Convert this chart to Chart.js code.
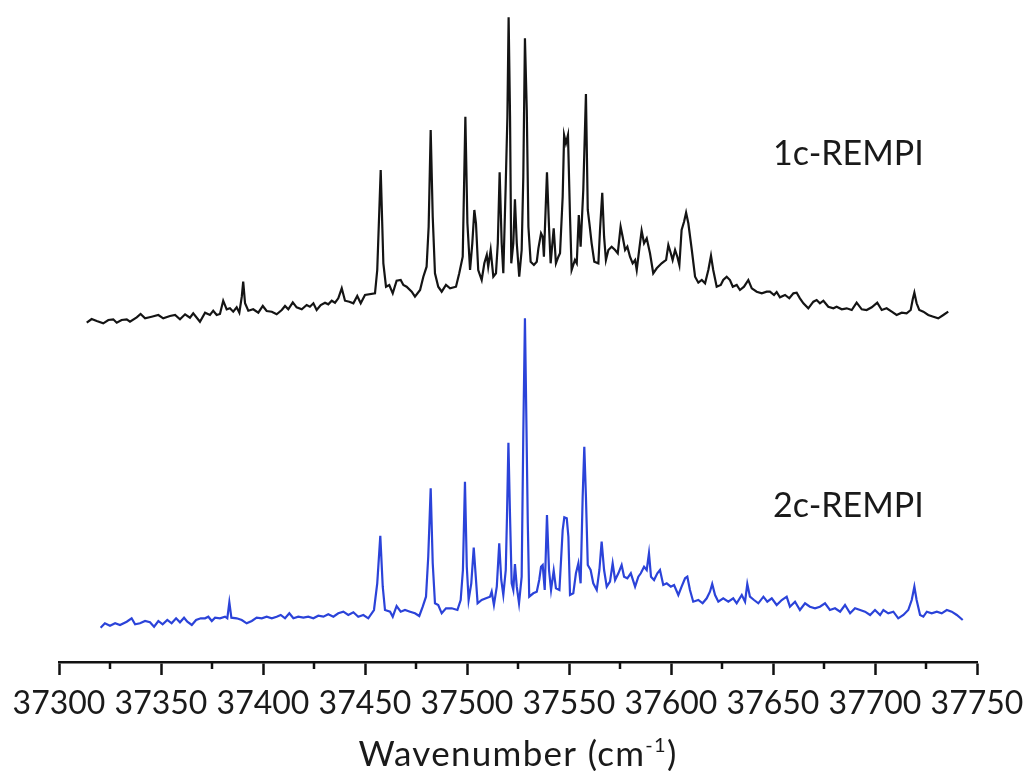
<!DOCTYPE html>
<html>
<head>
<meta charset="utf-8">
<title>REMPI spectra</title>
<script src="https://cdn.jsdelivr.net/npm/chart.js@4.4.1/dist/chart.umd.min.js"></script>
<style>
  html, body { margin: 0; padding: 0; background: #fff; }
  canvas { display: block; }
</style>
</head>
<body>
<canvas id="spectrumChart" width="1029" height="771"></canvas>
<script>
// 1c-REMPI trace: wavenumber (cm-1) and signal (a.u.)
const oneColorWn = [
  37313.6, 37316.0, 37318.5, 37321.7, 37324.2, 37326.6, 37328.3, 37330.7, 37333.2, 37334.8,
  37338.1, 37340.0, 37342.2, 37345.4, 37348.7, 37351.1, 37354.4, 37356.9, 37359.3, 37361.8,
  37364.2, 37365.8, 37369.1, 37371.6, 37374.0, 37375.6, 37377.3, 37378.9, 37380.5, 37382.2,
  37383.8, 37385.4, 37387.1, 37388.4, 37389.6, 37390.3, 37391.2, 37392.8, 37395.2, 37397.7,
  37399.9, 37401.8, 37404.3, 37406.7, 37409.2, 37410.8, 37412.4, 37414.6, 37416.5, 37419.0,
  37421.4, 37423.0, 37424.7, 37426.3, 37428.3, 37430.4, 37432.0, 37433.7, 37435.3, 37436.9,
  37438.6, 37440.2, 37442.3, 37444.3, 37446.2, 37447.9, 37450.0, 37454.9, 37456.0, 37457.7,
  37459.0, 37460.3, 37461.9, 37463.6, 37465.5, 37467.5, 37468.8, 37470.4, 37472.9, 37474.5,
  37477.0, 37478.6, 37480.2, 37481.2, 37482.2, 37483.2, 37484.3, 37485.9, 37487.6, 37489.7,
  37491.7, 37494.6, 37496.2, 37497.9, 37499.2, 37500.2, 37501.5, 37502.6, 37503.6, 37504.4,
  37505.5, 37507.2, 37508.5, 37509.7, 37510.4, 37511.6, 37512.9, 37514.2, 37515.1, 37516.0,
  37517.0, 37517.8, 37519.0, 37519.8, 37520.4, 37521.1, 37521.7, 37522.7, 37523.5, 37524.4,
  37525.6, 37526.8, 37527.6, 37528.4, 37529.3, 37530.1, 37531.2, 37532.8, 37534.2, 37535.0,
  37536.3, 37537.1, 37537.7, 37539.2, 37540.2, 37541.0, 37542.5, 37543.6, 37544.8, 37545.6,
  37546.9, 37547.6, 37548.5, 37549.5, 37550.5, 37551.3, 37552.9, 37553.8, 37554.8, 37555.7,
  37557.0, 37558.3, 37559.2, 37560.0, 37561.1, 37562.4, 37564.4, 37565.2, 37566.3, 37567.2,
  37568.1, 37569.3, 37570.9, 37572.6, 37573.9, 37575.3, 37576.3, 37577.5, 37578.6, 37579.9,
  37581.2, 37582.4, 37583.2, 37584.5, 37585.6, 37586.8, 37588.1, 37589.7, 37591.3, 37593.0,
  37595.4, 37597.6, 37598.7, 37599.9, 37600.8, 37602.0, 37603.1, 37604.1, 37605.2, 37606.4,
  37607.4, 37608.5, 37610.2, 37611.8, 37613.4, 37615.1, 37616.7, 37618.3, 37619.6, 37620.7,
  37622.4, 37624.4, 37625.6, 37627.3, 37628.9, 37630.3, 37632.2, 37633.8, 37635.8, 37637.9,
  37639.6, 37642.0, 37644.5, 37646.9, 37648.5, 37650.5, 37651.8, 37653.4, 37655.9, 37658.0,
  37660.0, 37661.6, 37663.2, 37664.9, 37667.3, 37669.8, 37671.4, 37673.0, 37674.7, 37677.1,
  37679.6, 37681.2, 37683.7, 37686.1, 37688.6, 37691.0, 37693.5, 37695.9, 37698.4, 37701.1,
  37703.3, 37705.7, 37708.2, 37710.6, 37713.1, 37715.5, 37717.5, 37718.5, 37719.3, 37720.4,
  37721.7, 37723.7, 37726.1, 37728.6, 37731.0, 37733.5, 37735.9
];
const oneColorInt = [
  7.3, 11, 9, 6.7, 10, 10.7, 7.3, 10, 10.7, 8.3,
  12.7, 16, 11.7, 13.3, 15, 11.7, 14, 15, 10.7, 15.7,
  12.3, 16.7, 8.3, 17.3, 15, 19.3, 15, 16, 29.3, 20.7,
  21.7, 18.3, 22.7, 17.3, 33.3, 48.3, 26.7, 19.3, 20.7, 17.3,
  24, 19, 18.3, 15.7, 20, 24, 20.7, 27.7, 22.7, 20.7,
  25, 23.3, 26.7, 20, 25, 27.3, 25.7, 29.3, 27.3, 31.7,
  41.7, 29.3, 28.3, 26.7, 34, 26.7, 35, 36.7, 60, 160,
  66.7, 43.3, 45, 36.7, 49.3, 50, 45, 43.3, 38.3, 33.3,
  40, 53.3, 63.3, 103.3, 200, 113.3, 56.7, 43.3, 38.3, 45,
  41.7, 43.3, 56.7, 73.3, 213.3, 106.7, 60, 86.7, 120, 106.7,
  60, 50, 66.7, 75, 63.3, 80, 53.3, 56.7, 86.7, 157.7,
  86.7, 56.7, 146.7, 213, 312.7, 213.3, 66.7, 86.7, 130.7, 86.7,
  53.3, 80, 153.3, 291.7, 220, 103.3, 68.3, 65, 68.3, 81.7,
  96.7, 93.3, 73.3, 157.7, 103.3, 66.7, 101.7, 66.7, 73.3, 76.7,
  133.3, 195, 186.7, 195, 113.3, 60, 70, 66.7, 115, 83.3,
  140, 236, 120, 106.7, 86.7, 68.3, 66.7, 100, 137.3, 93.3,
  70, 80, 83.3, 80, 76.7, 103.3, 93.3, 80, 83.3, 73.3,
  66.7, 70, 60, 81.7, 99.3, 86.7, 91.7, 76.7, 56.7, 61.7,
  66.7, 70, 85, 76.7, 70, 80, 73.3, 65, 100, 108.3,
  117.3, 106.7, 80, 53.3, 47.3, 50, 46.7, 60, 74.3, 60,
  43.3, 45, 50, 53.3, 50, 43.3, 45, 40, 43.3, 50,
  41.7, 38.3, 36.7, 38.3, 38.3, 35, 38, 32.7, 35, 31.7,
  36.7, 37.3, 31.7, 26.7, 21.7, 28.3, 30, 26.7, 29.3, 23.3,
  21.7, 23.3, 20.7, 21.7, 20, 27.3, 20.7, 20, 22.7, 27.3,
  20, 21.7, 18.3, 15, 17.3, 16.7, 20, 30.7, 37.3, 26.7,
  20, 18.3, 15, 13.3, 11.7, 15, 18.3
];

// 2c-REMPI trace
const twoColorWn = [
  37320.4, 37322.5, 37325.0, 37327.5, 37329.9, 37333.2, 37335.6, 37337.3, 37339.7, 37342.2,
  37344.6, 37346.6, 37348.7, 37350.8, 37353.1, 37355.2, 37357.4, 37359.3, 37361.3, 37362.9,
  37365.1, 37367.2, 37369.5, 37371.6, 37373.2, 37374.9, 37376.5, 37378.9, 37381.4, 37382.5,
  37383.5, 37384.5, 37387.1, 37389.6, 37392.0, 37394.5, 37396.9, 37399.4, 37401.8, 37404.3,
  37406.7, 37408.7, 37410.8, 37412.9, 37414.9, 37417.3, 37419.8, 37422.2, 37424.7, 37427.1,
  37429.6, 37432.0, 37434.5, 37436.9, 37439.4, 37441.8, 37444.3, 37446.7, 37449.2, 37451.6,
  37454.4, 37456.0, 37457.5, 37458.7, 37459.8, 37462.3, 37463.6, 37465.5, 37467.5, 37469.6,
  37472.1, 37474.5, 37476.6, 37478.3, 37479.9, 37481.0, 37482.2, 37483.2, 37484.3, 37485.9,
  37487.6, 37489.7, 37492.5, 37495.3, 37496.9, 37498.0, 37499.0, 37499.9, 37500.8, 37502.1,
  37503.3, 37504.3, 37505.2, 37507.2, 37509.3, 37511.3, 37512.1, 37513.2, 37514.6, 37515.8,
  37516.8, 37517.8, 37519.0, 37519.6, 37520.3, 37521.1, 37521.9, 37522.7, 37523.5, 37524.4,
  37525.5, 37526.8, 37527.6, 37528.4, 37529.1, 37529.8, 37530.5, 37532.5, 37534.2, 37535.4,
  37536.3, 37537.1, 37538.1, 37539.2, 37540.2, 37541.2, 37542.5, 37543.6, 37545.3, 37546.9,
  37547.7, 37548.9, 37549.7, 37550.5, 37552.1, 37553.4, 37554.6, 37555.7, 37556.7, 37557.5,
  37558.3, 37559.2, 37560.6, 37561.9, 37563.6, 37564.9, 37566.0, 37567.2, 37568.5, 37570.1,
  37571.4, 37572.6, 37574.2, 37575.8, 37577.0, 37578.6, 37580.3, 37582.4, 37584.0, 37585.2,
  37586.8, 37588.1, 37589.2, 37590.2, 37591.7, 37593.3, 37594.6, 37596.2, 37597.9, 37599.9,
  37601.5, 37603.6, 37605.2, 37606.9, 37608.0, 37609.3, 37610.9, 37613.4, 37615.5, 37617.5,
  37619.1, 37620.2, 37621.6, 37623.2, 37625.6, 37628.1, 37630.5, 37632.2, 37634.7, 37636.3,
  37637.4, 37638.7, 37640.7, 37642.8, 37645.3, 37647.2, 37649.4, 37651.8, 37654.3, 37656.7,
  37658.3, 37660.8, 37663.2, 37665.7, 37668.1, 37670.6, 37673.0, 37675.5, 37677.9, 37680.4,
  37682.9, 37685.3, 37687.8, 37690.2, 37692.7, 37695.1, 37697.6, 37700.0, 37702.5, 37704.1,
  37706.5, 37709.0, 37711.4, 37713.9, 37716.3, 37718.0, 37719.3, 37720.4, 37722.1, 37723.7,
  37725.4, 37727.8, 37730.3, 37732.7, 37735.2, 37737.6, 37740.1, 37743.0
];
const twoColorInt = [
  12.3, 16.7, 14.3, 16.7, 15, 18.3, 21.7, 15.7, 16.7, 19,
  17.7, 13.3, 19, 15.7, 20, 16.7, 21.7, 17.7, 22.3, 18.3,
  15, 20, 21.7, 21.7, 23.3, 19, 22.3, 21.7, 23.3, 21.7,
  37.7, 22.3, 21.7, 20, 16.7, 19, 22.3, 21.7, 23.3, 21.7,
  23.3, 25, 21.7, 26.7, 21.7, 23.3, 22.3, 23.3, 21.7, 24.3,
  23.3, 25.7, 23.3, 26.7, 28.3, 25, 27.7, 23.3, 25, 21.7,
  30, 56.7, 104.3, 53.3, 30, 28.3, 23.3, 34, 28.3, 30,
  28.3, 26.7, 24, 33.3, 43.3, 83.3, 151.7, 76.7, 36.7, 35,
  26.7, 31.7, 31.7, 30, 40, 70, 158.3, 73.3, 40, 56.7,
  92.3, 63.3, 36.7, 40, 41.7, 43.3, 48.3, 35, 53.3, 96.7,
  60, 45, 70, 123.3, 197.3, 123.3, 56.7, 50, 76, 53.3,
  36.7, 63.3, 206.7, 321.7, 220, 116.7, 43.3, 46.7, 48.3, 60,
  73.3, 75, 50, 125, 70, 50, 69.3, 51.7, 50, 110,
  122.7, 121.7, 103.3, 45, 46.7, 66.7, 76.7, 56.7, 143.3, 193.3,
  143.3, 75, 70, 56.7, 50, 70, 98.3, 70, 53.3, 58.3,
  76.7, 60, 66.7, 75, 63.3, 61.7, 66.7, 53.3, 63.3, 66.7,
  73.3, 70, 86.7, 63.3, 60, 66.7, 70, 55, 56.7, 53.3,
  55, 45, 53.3, 61.7, 63.3, 50, 38.3, 40, 36.7, 41.7,
  48.3, 56, 45, 38.3, 41.7, 38.3, 41.7, 36.7, 45, 38.3,
  56, 43.3, 40, 36.7, 43.3, 38.3, 41.7, 35, 40, 43.3,
  33.3, 38.3, 30, 36.7, 33.3, 31.7, 33.3, 36.7, 30, 31.7,
  28.3, 35, 26.7, 31.7, 30, 28.3, 25, 30, 25, 30,
  26.7, 28.3, 21.7, 25, 30, 40, 53.3, 40, 25, 23.3,
  28.3, 26.7, 28.3, 26.7, 30, 28.3, 25, 20
];

const majorTicks = [37300, 37350, 37400, 37450, 37500, 37550, 37600, 37650, 37700, 37750];
const traceNames = ["1c-REMPI", "2c-REMPI"];
const traceColors = ["#141414", "#2b43d9"];
// the 1c trace is stacked above the 2c trace
const oneColorOffset = 310;

const axisFont = "Lato, 'Noto Sans', sans-serif";

function toPoints(xs, ys, shift) {
  return xs.map((x, i) => ({ x: x, y: ys[i] + shift }));
}

// minor ticks, axis title and trace names
const decorations = {
  id: "decorations",
  afterDraw(chart) {
    const ctx = chart.ctx;
    const xs = chart.scales.x;
    const ys = chart.scales.y;
    const base = xs.top;

    ctx.save();
    ctx.strokeStyle = "#111";
    ctx.lineWidth = 2.5;
    for (let i = 0; i < majorTicks.length - 1; i++) {
      const px = xs.getPixelForValue((majorTicks[i] + majorTicks[i + 1]) / 2);
      ctx.beginPath();
      ctx.moveTo(px, base);
      ctx.lineTo(px, base + 7);
      ctx.stroke();
    }

    // axis title with superscript
    ctx.fillStyle = "#1a1a1a";
    ctx.textBaseline = "alphabetic";
    ctx.textAlign = "left";
    ctx.letterSpacing = "1.3px";
    const main = "Wavenumber (cm";
    const sup = "-1";
    const close = ")";
    ctx.font = "35px " + axisFont;
    const wMain = ctx.measureText(main).width;
    const wClose = ctx.measureText(close).width;
    ctx.font = "20px " + axisFont;
    const wSup = ctx.measureText(sup).width;
    const total = wMain + wSup + wClose;
    const x0 = (xs.left + xs.right) / 2 - total / 2;
    const yBase = 766;
    ctx.font = "35px " + axisFont;
    ctx.fillText(main, x0, yBase);
    ctx.font = "20px " + axisFont;
    ctx.fillText(sup, x0 + wMain, yBase - 14);
    ctx.font = "35px " + axisFont;
    ctx.fillText(close, x0 + wMain + wSup, yBase);

    // trace names
    ctx.letterSpacing = "0px";
    ctx.font = "34px " + axisFont;
    const labelX = xs.getPixelForValue(37650);
    ctx.fillText(traceNames[0], labelX, ys.getPixelForValue(475));
    ctx.fillText(traceNames[1], labelX, ys.getPixelForValue(123));
    ctx.restore();
  },
};

new Chart(document.getElementById("spectrumChart"), {
  type: "line",
  data: {
    datasets: [
      {
        label: traceNames[0],
        data: toPoints(oneColorWn, oneColorInt, oneColorOffset),
        borderColor: traceColors[0],
        borderWidth: 2.2,
        pointRadius: 0,
        tension: 0,
      },
      {
        label: traceNames[1],
        data: toPoints(twoColorWn, twoColorInt, 0),
        borderColor: traceColors[1],
        borderWidth: 2.2,
        pointRadius: 0,
        tension: 0,
      },
    ],
  },
  options: {
    responsive: false,
    animation: false,
    devicePixelRatio: 1,
    layout: { padding: { left: 59, right: 52, top: 10, bottom: 0 } },
    plugins: {
      legend: { display: false },
      tooltip: { enabled: false },
    },
    scales: {
      x: {
        type: "linear",
        min: 37300,
        max: 37750,
        afterBuildTicks: (scale) => {
          scale.ticks = majorTicks.map((v) => ({ value: v }));
        },
        afterFit: (scale) => {
          scale.height = 109;
          scale.paddingLeft = 0;
          scale.paddingRight = 0;
        },
        ticks: {
          autoSkip: false,
          maxRotation: 0,
          padding: 9,
          color: "#1a1a1a",
          font: { family: axisFont, size: 32 },
          callback: (v) => String(v),
        },
        grid: {
          drawOnChartArea: false,
          drawTicks: true,
          tickLength: 13,
          tickWidth: 2.5,
          tickColor: "#111",
        },
        border: { display: true, color: "#111", width: 2.5 },
      },
      y: {
        type: "linear",
        display: false,
        min: -22,
        max: 630,
      },
    },
  },
  plugins: [decorations],
});
</script>
</body>
</html>
